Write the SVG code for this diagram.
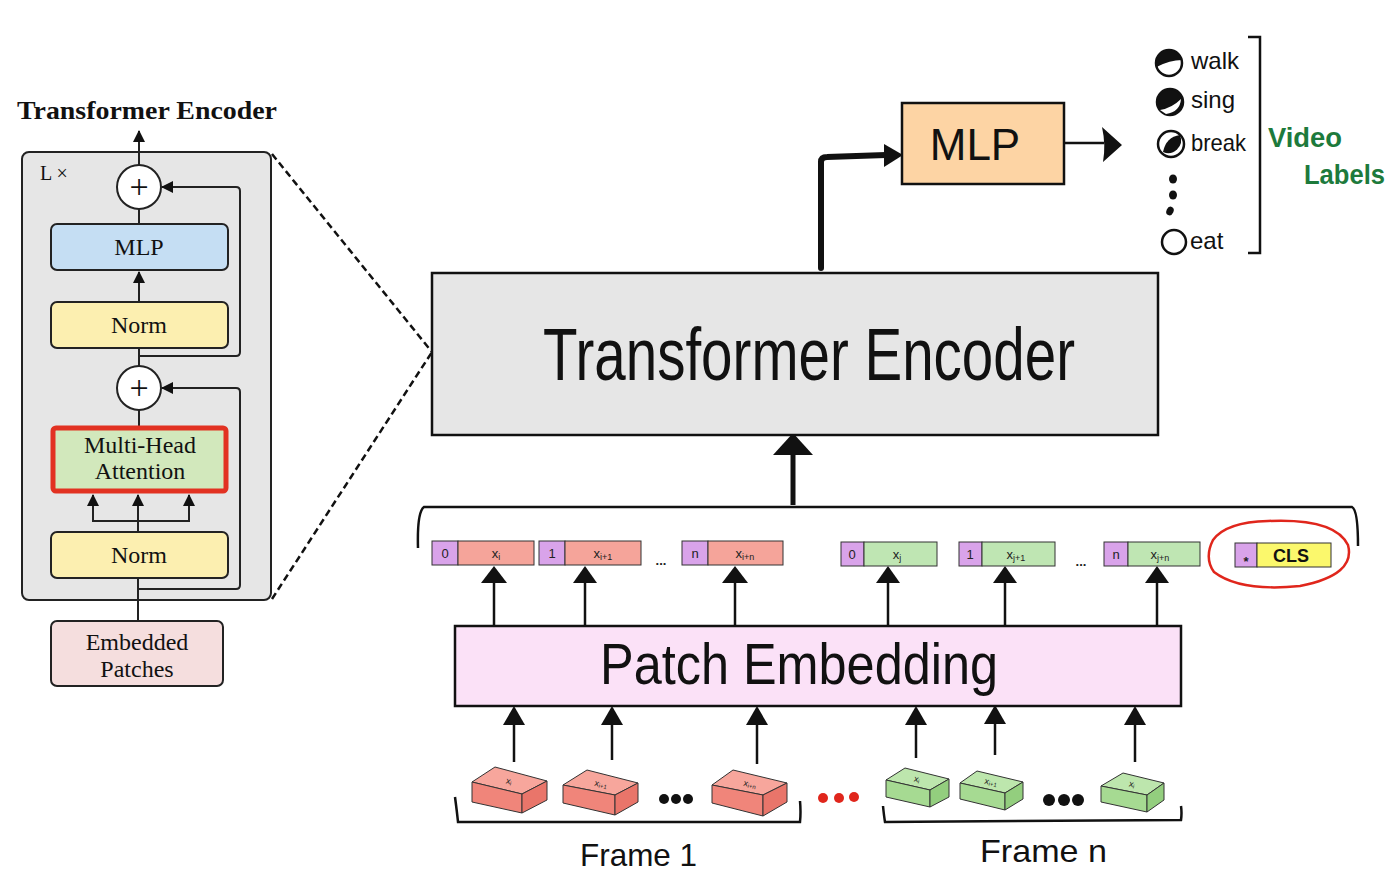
<svg xmlns="http://www.w3.org/2000/svg" width="1400" height="882" viewBox="0 0 1400 882">
<style>
.serif{font-family:"Liberation Serif",serif;fill:#111}
.hand{font-family:"Liberation Sans",Arial,sans-serif;fill:#111}
.bx{stroke:#111;stroke-width:2.5}
.thin{stroke:#222;stroke-width:2;fill:none}
.ln{stroke:#111;stroke-width:2.5;fill:none}
.pos{fill:#d9a3ea;stroke:#333;stroke-width:1}
.red{fill:#f5a49a;stroke:#333;stroke-width:1}
.grn{fill:#bfe6b3;stroke:#333;stroke-width:1}
.tk{font-family:"Liberation Sans",sans-serif;font-size:13px;fill:#222;text-anchor:middle}
.cl{font-family:"Liberation Sans",sans-serif;font-size:9px;fill:#222;text-anchor:middle}
.cube{stroke:#333;stroke-width:1}
.lab{font-family:"Liberation Sans",Arial,sans-serif;fill:#111;font-size:24px}
</style>
<defs>
<marker id="sm" markerWidth="12" markerHeight="12" refX="11" refY="6" orient="auto" markerUnits="userSpaceOnUse">
<path d="M0,0 L12,6 L0,12 Z" fill="#111"/>
</marker>
</defs>
<rect width="1400" height="882" fill="#ffffff"/>

<!-- Left panel -->
<g id="left-title"><text class="serif" x="17" y="119" font-size="26" font-weight="bold" textLength="260" lengthAdjust="spacingAndGlyphs">Transformer Encoder</text></g>
<g id="left-block">
<rect x="22" y="152" width="249" height="448" rx="7" fill="#e6e6e6" stroke="#222" stroke-width="2"/>
<text class="serif" x="40" y="180" font-size="20" fill="#333">L ×</text>
</g>
<g id="left-connectors">
<line class="thin" x1="139" y1="165" x2="139" y2="131" marker-end="url(#sm)"/>
<line class="thin" x1="139" y1="208" x2="139" y2="224"/>
<line class="thin" x1="139" y1="302" x2="139" y2="272" marker-end="url(#sm)"/>
<line class="thin" x1="139" y1="348" x2="139" y2="366"/>
<line class="thin" x1="139" y1="410" x2="139" y2="426"/>
<path class="thin" d="M139,356 L236,356 Q240,356 240,352 L240,191 Q240,187 236,187 L162,187" marker-end="url(#sm)"/>
<path class="thin" d="M139,589 L236,589 Q240,589 240,585 L240,392 Q240,388 236,388 L162,388" marker-end="url(#sm)"/>
<line class="thin" x1="138" y1="621" x2="138" y2="578"/>
<line class="thin" x1="138" y1="533" x2="138" y2="495" marker-end="url(#sm)"/>
<path class="thin" d="M138,521 L93,521 L93,495" marker-end="url(#sm)"/>
<path class="thin" d="M138,521 L189,521 L189,495" marker-end="url(#sm)"/>
</g>
<g id="left-add1"><circle cx="139" cy="187" r="22" fill="#fff" stroke="#222" stroke-width="2"/><text class="serif" x="139" y="198" font-size="34" text-anchor="middle">+</text></g>
<g id="left-mlp"><rect x="51" y="224" width="177" height="46" rx="6" fill="#c5def3" stroke="#222" stroke-width="2"/><text class="serif" x="139" y="255" font-size="24" text-anchor="middle">MLP</text></g>
<g id="left-norm1"><rect x="51" y="302" width="177" height="46" rx="6" fill="#fcefb0" stroke="#222" stroke-width="2"/><text class="serif" x="139" y="333" font-size="24" text-anchor="middle">Norm</text></g>
<g id="left-add2"><circle cx="139" cy="388" r="22" fill="#fff" stroke="#222" stroke-width="2"/><text class="serif" x="139" y="399" font-size="34" text-anchor="middle">+</text></g>
<g id="left-mha"><rect x="53" y="428" width="173" height="63" rx="3" fill="#d2e8bc" stroke="#e23222" stroke-width="5"/><text class="serif" x="140" y="453" font-size="24" text-anchor="middle">Multi-Head</text><text class="serif" x="140" y="479" font-size="24" text-anchor="middle">Attention</text></g>
<g id="left-norm2"><rect x="51" y="532" width="177" height="46" rx="6" fill="#fcefb0" stroke="#222" stroke-width="2"/><text class="serif" x="139" y="563" font-size="24" text-anchor="middle">Norm</text></g>
<g id="left-embedded"><rect x="51" y="621" width="172" height="65" rx="6" fill="#f5dede" stroke="#222" stroke-width="2"/><text class="serif" x="137" y="650" font-size="24" text-anchor="middle">Embedded</text><text class="serif" x="137" y="677" font-size="24" text-anchor="middle">Patches</text></g>

<!-- Main connectors -->
<g id="connectors">
<line x1="272" y1="154" x2="432" y2="352" stroke="#111" stroke-width="2.5" stroke-dasharray="7 4"/>
<line x1="272" y1="599" x2="432" y2="352" stroke="#111" stroke-width="2.5" stroke-dasharray="7 4"/>
<path d="M821,268 L821,162 Q821,157 827,157 L886,155" fill="none" stroke="#111" stroke-width="6" stroke-linecap="round"/>
<path d="M884,144 L903,155 L884,167 Z" fill="#111"/>
<line class="ln" x1="1064" y1="143" x2="1104" y2="143"/>
<path d="M1102,127 L1122,145 L1103,162 Q1106,145 1102,127 Z" fill="#111"/>
<line x1="793" y1="505" x2="793" y2="452" stroke="#111" stroke-width="5"/>
<path d="M793,433 L813,455 L773,455 Z" fill="#111"/>
<path class="ln" d="M418,548 Q417,512 424,507 L1352,507 Q1358,510 1358,546"/>
<g id="token-arrows">
<line class="ln" x1="494" y1="626" x2="494" y2="578"/><path d="M494,566 L507,583 L481,583 Z" fill="#111"/>
<line class="ln" x1="585" y1="626" x2="585" y2="578"/><path d="M585,566 L597,583 L573,583 Z" fill="#111"/>
<line class="ln" x1="735" y1="626" x2="735" y2="578"/><path d="M735,566 L748,583 L722,583 Z" fill="#111"/>
<line class="ln" x1="888" y1="626" x2="888" y2="578"/><path d="M888,566 L900,583 L876,583 Z" fill="#111"/>
<line class="ln" x1="1005" y1="626" x2="1005" y2="578"/><path d="M1005,566 L1017,583 L993,583 Z" fill="#111"/>
<line class="ln" x1="1157" y1="626" x2="1157" y2="578"/><path d="M1157,566 L1169,583 L1145,583 Z" fill="#111"/>
</g>
<g id="patch-arrows">
<line class="ln" x1="514" y1="762" x2="514" y2="720"/><path d="M514,706 L525,725 L503,725 Z" fill="#111"/>
<line class="ln" x1="612" y1="760" x2="612" y2="720"/><path d="M612,706 L623,725 L601,725 Z" fill="#111"/>
<line class="ln" x1="757" y1="764" x2="757" y2="720"/><path d="M757,706 L768,725 L746,725 Z" fill="#111"/>
<line class="ln" x1="916" y1="758" x2="916" y2="720"/><path d="M916,706 L927,725 L905,725 Z" fill="#111"/>
<line class="ln" x1="995" y1="755" x2="995" y2="720"/><path d="M995,705 L1006,724 L984,724 Z" fill="#111"/>
<line class="ln" x1="1135" y1="762" x2="1135" y2="720"/><path d="M1135,706 L1146,725 L1124,725 Z" fill="#111"/>
</g>
<path class="ln" d="M455,797 Q457,812 458,822 L800,822 Q801,812 800,801"/>
<path class="ln" d="M883,806 Q884,816 885,822 L1181,820 Q1182,813 1181,806"/>
</g>

<!-- Transformer Encoder -->
<g id="transformer-encoder">
<rect class="bx" x="432" y="273" width="726" height="162" fill="#e6e6e6"/>
<text class="hand" x="543" y="380" font-size="74" textLength="532" lengthAdjust="spacingAndGlyphs">Transformer Encoder</text>
</g>

<!-- MLP -->
<g id="mlp">
<rect class="bx" x="902" y="103" width="162" height="81" fill="#fdd4a4"/>
<text class="hand" x="975" y="160" font-size="44" text-anchor="middle">MLP</text>
</g>

<!-- Video labels -->
<g id="video-labels">
<circle cx="1169" cy="63" r="13" fill="#fff" stroke="#111" stroke-width="2.5"/>
<path d="M1156.5,67 A13,13 0 1 1 1181.8,60 Q1170,60 1156.5,67 Z" fill="#111"/>
<circle cx="1170" cy="102" r="13" fill="#111" stroke="#111" stroke-width="2.5"/>
<path d="M1160,110 Q1172,108 1181,99 Q1180,112 1166,114 Z" fill="#fff"/>
<circle cx="1171" cy="144" r="13" fill="#fff" stroke="#111" stroke-width="2.5"/>
<path d="M1163,152 Q1166,137 1180,135 A13,13 0 0 1 1163,152 Z" fill="#111"/>
<ellipse cx="1173" cy="179" rx="4" ry="4.5" fill="#111"/>
<ellipse cx="1173" cy="195" rx="4" ry="4.5" fill="#111"/>
<ellipse cx="1170" cy="211" rx="3.5" ry="4.5" fill="#111" transform="rotate(25 1170 211)"/>
<circle cx="1174" cy="242" r="12" fill="#fff" stroke="#111" stroke-width="2.5"/>
<text class="lab" x="1191" y="69">walk</text>
<text class="lab" x="1191" y="108">sing</text>
<text class="lab" x="1191" y="151" textLength="55" lengthAdjust="spacingAndGlyphs">break</text>
<text class="lab" x="1190" y="249">eat</text>
<path class="ln" d="M1248,37 L1260,37 L1260,253 L1248,253"/>
<text x="1268" y="147" font-size="28" font-weight="bold" font-family="Liberation Sans, sans-serif" fill="#1d7a3c" textLength="74" lengthAdjust="spacingAndGlyphs">Video</text>
<text x="1304" y="184" font-size="28" font-weight="bold" font-family="Liberation Sans, sans-serif" fill="#1d7a3c" textLength="81" lengthAdjust="spacingAndGlyphs">Labels</text>
</g>

<!-- Tokens -->
<g id="tokens-frame1">
<rect class="pos" x="432" y="541" width="26" height="24"/><text class="tk" x="445" y="558">0</text>
<rect class="red" x="458" y="541" width="76" height="24"/><text class="tk" x="496" y="558">x<tspan font-size="9" dy="2">i</tspan></text>
<rect class="pos" x="539" y="541" width="26" height="24"/><text class="tk" x="552" y="558">1</text>
<rect class="red" x="565" y="541" width="76" height="24"/><text class="tk" x="603" y="558">x<tspan font-size="9" dy="2">i+1</tspan></text>
<text class="tk" x="661" y="565" font-size="18" font-weight="bold">...</text>
<rect class="pos" x="682" y="541" width="26" height="24"/><text class="tk" x="695" y="558">n</text>
<rect class="red" x="708" y="541" width="75" height="24"/><text class="tk" x="745" y="558">x<tspan font-size="9" dy="2">i+n</tspan></text>
</g>
<g id="tokens-framen">
<rect class="pos" x="841" y="542" width="23" height="24"/><text class="tk" x="852" y="559">0</text>
<rect class="grn" x="864" y="542" width="73" height="24"/><text class="tk" x="897" y="559">x<tspan font-size="9" dy="2">j</tspan></text>
<rect class="pos" x="959" y="542" width="23" height="24"/><text class="tk" x="970" y="559">1</text>
<rect class="grn" x="982" y="542" width="73" height="24"/><text class="tk" x="1016" y="559">x<tspan font-size="9" dy="2">j+1</tspan></text>
<text class="tk" x="1081" y="566" font-size="18" font-weight="bold">...</text>
<rect class="pos" x="1104" y="542" width="24" height="24"/><text class="tk" x="1116" y="559">n</text>
<rect class="grn" x="1128" y="542" width="72" height="24"/><text class="tk" x="1160" y="559">x<tspan font-size="9" dy="2">j+n</tspan></text>
</g>
<g id="cls-token">
<rect class="pos" x="1235" y="543" width="22" height="24"/><text class="tk" x="1246" y="566" font-size="20" font-weight="bold">*</text>
<rect x="1257" y="543" width="74" height="24" fill="#fbf86c" stroke="#333" stroke-width="1"/>
<text x="1291" y="562" font-size="18" font-weight="bold" font-family="Liberation Sans, sans-serif" fill="#111" text-anchor="middle">CLS</text>
<path d="M1213,540 Q1226,522 1268,521 Q1335,518 1348,545 Q1356,575 1300,586 Q1240,592 1214,572 Q1204,558 1213,540 Z" fill="none" stroke="#e0261c" stroke-width="2.5"/>
</g>

<!-- Patch Embedding -->
<g id="patch-embedding">
<rect class="bx" x="455" y="626" width="726" height="80" fill="#fbe1f7"/>
<text class="hand" x="600" y="684" font-size="58" textLength="398" lengthAdjust="spacingAndGlyphs">Patch Embedding</text>
</g>

<!-- Cubes frame 1 -->
<g id="cubes-frame1">
<polygon class="cube" points="472,782 495,767 547,781 522,794" fill="#f7a69c"/>
<polygon class="cube" points="472,782 522,794 522,813 472,802" fill="#f0857a"/>
<polygon class="cube" points="522,794 547,781 547,800 522,813" fill="#e9756a"/>
<text class="cl" x="509" y="784" transform="rotate(14 509 781)">x<tspan font-size="6" dy="1">i</tspan></text>
<polygon class="cube" points="563,785 587,770 638,783 615,795" fill="#f7a69c"/>
<polygon class="cube" points="563,785 615,795 615,815 563,803" fill="#f0857a"/>
<polygon class="cube" points="615,795 638,783 638,802 615,815" fill="#e9756a"/>
<text class="cl" x="601" y="787" transform="rotate(14 601 784)">x<tspan font-size="6" dy="1">i+1</tspan></text>
<polygon class="cube" points="712,785 733,770 787,783 763,795" fill="#f7a69c"/>
<polygon class="cube" points="712,785 763,795 763,816 712,803" fill="#f0857a"/>
<polygon class="cube" points="763,795 787,783 787,802 763,816" fill="#e9756a"/>
<text class="cl" x="750" y="787" transform="rotate(14 750 784)">x<tspan font-size="6" dy="1">i+n</tspan></text>
<circle cx="664" cy="799" r="5" fill="#111"/><circle cx="676" cy="799" r="5" fill="#111"/><circle cx="688" cy="799" r="5" fill="#111"/>
</g>
<g id="frame-dots">
<circle cx="823" cy="798" r="5" fill="#e0261c"/><circle cx="839" cy="798" r="5" fill="#e0261c"/><circle cx="854" cy="797" r="5" fill="#e0261c"/>
</g>
<!-- Cubes frame n -->
<g id="cubes-framen">
<polygon class="cube" points="886,780 905,768 949,779 930,790" fill="#bde6ad"/>
<polygon class="cube" points="886,780 930,790 930,807 886,797" fill="#a6da92"/>
<polygon class="cube" points="930,790 949,779 949,797 930,807" fill="#93ce7e"/>
<text class="cl" x="917" y="782" transform="rotate(14 917 779)">x<tspan font-size="6" dy="1">i</tspan></text>
<polygon class="cube" points="960,783 977,771 1023,782 1005,793" fill="#bde6ad"/>
<polygon class="cube" points="960,783 1005,793 1005,810 960,799" fill="#a6da92"/>
<polygon class="cube" points="1005,793 1023,782 1023,799 1005,810" fill="#93ce7e"/>
<text class="cl" x="991" y="785" transform="rotate(14 991 782)">x<tspan font-size="6" dy="1">i+1</tspan></text>
<polygon class="cube" points="1101,786 1123,773 1164,783 1147,795" fill="#bde6ad"/>
<polygon class="cube" points="1101,786 1147,795 1147,812 1101,802" fill="#a6da92"/>
<polygon class="cube" points="1147,795 1164,783 1164,800 1147,812" fill="#93ce7e"/>
<text class="cl" x="1132" y="787" transform="rotate(14 1132 784)">x<tspan font-size="6" dy="1">i</tspan></text>
<circle cx="1049" cy="800" r="6" fill="#111"/><circle cx="1064" cy="800" r="6" fill="#111"/><circle cx="1078" cy="800" r="6" fill="#111"/>
</g>
<g id="frame-labels">
<text class="hand" x="580" y="866" font-size="32" textLength="117" lengthAdjust="spacingAndGlyphs">Frame 1</text>
<text class="hand" x="980" y="862" font-size="32" textLength="127" lengthAdjust="spacingAndGlyphs">Frame n</text>
</g>
</svg>
